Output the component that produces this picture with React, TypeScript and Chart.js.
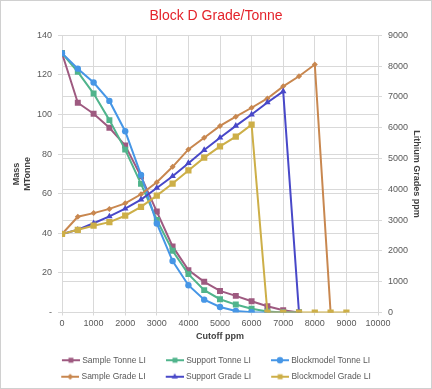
import React, { useEffect, useRef } from 'react';
import { Chart, registerables } from 'chart.js';

Chart.register(...registerables);

// ---- data ----
const cutoffPpm = [0, 500, 1000, 1500, 2000, 2500, 3000, 3500, 4000, 4500, 5000, 5500, 6000, 6500, 7000, 7500, 8000, 8500, 9000];

const sampleTonne = [131, 106, 100.4, 93.3, 84.4, 68.8, 51, 33.4, 21.4, 15.5, 10.9, 8.4, 5.7, 3.2, 1.1, 0];
const supportTonne = [131, 121.6, 110.6, 97.2, 82.3, 65, 46.8, 31.2, 19.4, 11.3, 6.7, 4, 1.9, 0.5, 0, 0];
const blockmodelTonne = [131, 123.2, 116.2, 106.9, 91.6, 69.5, 45, 26, 13.8, 6.5, 2.8, 0.8, 0.1, 0, 0, 0];

const sampleGrade = [2550, 3110, 3228, 3365, 3545, 3840, 4231, 4731, 5298, 5678, 6060, 6360, 6650, 6953, 7345, 7672, 8053, 0];
const supportGrade = [2550, 2690, 2900, 3120, 3371, 3665, 4045, 4427, 4850, 5276, 5678, 6060, 6430, 6822, 7181, 0];
const blockmodelGrade = [2550, 2685, 2820, 2934, 3143, 3430, 3796, 4188, 4613, 5030, 5397, 5711, 6100, 0, 0, 0, 0, 0, 0];

const seriesNames = [
  'Sample Tonne LI',
  'Support Tonne LI',
  'Blockmodel Tonne LI',
  'Sample Grade LI',
  'Support Grade LI',
  'Blockmodel Grade LI',
];
const seriesValues = [sampleTonne, supportTonne, blockmodelTonne, sampleGrade, supportGrade, blockmodelGrade];
const seriesAxis = ['y', 'y', 'y', 'y2', 'y2', 'y2'];
const seriesColors = ['#9E5A80', '#50B48C', '#4696E6', '#C8874F', '#4848C8', '#CDAF48'];
const seriesMarkers = ['rect', 'rect', 'circle', 'rectRot', 'triangle', 'rect'];
const seriesMarkerRadius = [4.2, 4.2, 3.2, 3, 3.8, 4.4];

const titleText = 'Block D Grade/Tonne';
const xTitle = 'Cutoff ppm';
const yTitle = ['Mass', 'MTonne'];
const y2Title = 'Lithium Grades ppm';

const FONT = "'Liberation Sans', Arial, sans-serif";

function drawMarker(ctx: CanvasRenderingContext2D, style: string, x: number, y: number, r: number) {
  ctx.beginPath();
  if (style === 'rect') {
    const s = r * Math.SQRT1_2;
    ctx.rect(x - s, y - s, 2 * s, 2 * s);
  } else if (style === 'circle') {
    ctx.arc(x, y, r, 0, Math.PI * 2);
  } else if (style === 'triangle') {
    ctx.moveTo(x, y - r);
    ctx.lineTo(x + r * 0.87, y + r * 0.5);
    ctx.lineTo(x - r * 0.87, y + r * 0.5);
    ctx.closePath();
  } else if (style === 'rectRot') {
    ctx.moveTo(x, y - r);
    ctx.lineTo(x + r, y);
    ctx.lineTo(x, y + r);
    ctx.lineTo(x - r, y);
    ctx.closePath();
  }
  ctx.fill();
}

function makeLegendIcon(color: string, style: string, r: number) {
  const c = document.createElement('canvas');
  c.width = 32;
  c.height = 12;
  const ctx = c.getContext('2d')!;
  ctx.strokeStyle = color;
  ctx.fillStyle = color;
  ctx.lineWidth = 2;
  ctx.beginPath();
  ctx.moveTo(14, 6);
  ctx.lineTo(32, 6);
  ctx.stroke();
  drawMarker(ctx, style, 23, 6, r);
  return c;
}

const legendShift = {
  id: 'legendShift',
  afterLayout(chart: any) {
    if (chart.legend) {
      chart.legend.left -= 6;
      chart.legend.right -= 6;
    }
  },
};

export default function App() {
  const ref = useRef<HTMLCanvasElement | null>(null);

  useEffect(() => {
    if (!ref.current) return;
    const icons = seriesColors.map((c, i) => makeLegendIcon(c, seriesMarkers[i], Math.min(seriesMarkerRadius[i], 3.5)));

    const datasets = seriesNames.map((name, i) => ({
      label: name,
      data: seriesValues[i].map((v, j) => ({ x: cutoffPpm[j], y: v })),
      yAxisID: seriesAxis[i],
      borderColor: seriesColors[i],
      backgroundColor: seriesColors[i],
      pointBackgroundColor: seriesColors[i],
      pointBorderColor: seriesColors[i],
      pointStyle: seriesMarkers[i],
      pointRadius: seriesMarkerRadius[i],
      pointBorderWidth: 0,
      borderWidth: 2,
      tension: 0,
      fill: false,
      order: 5 - i,
    }));

    const grid = { color: '#D9D9D9', lineWidth: 1 };
    const tickFont = { family: FONT, size: 9 };
    const titleFont = { family: FONT, size: 9, weight: 'bold' as const };

    const chart = new Chart(ref.current, {
      type: 'line',
      data: { datasets },
      plugins: [legendShift],
      options: {
        responsive: false,
        animation: false,
        layout: { padding: { left: 0, right: 0, top: 0, bottom: -2 } },
        plugins: {
          title: {
            display: true,
            text: titleText,
            color: '#E4232B',
            font: { family: FONT, size: 14, weight: 'normal' },
            padding: { top: 8, bottom: 10.6 },
          },
          legend: {
            position: 'bottom',
            labels: {
              usePointStyle: true,
              pointStyleWidth: 28,
              padding: 8,
              color: '#595959',
              font: { family: FONT, size: 8.5 },
              sort: (a: any, b: any) => a.datasetIndex - b.datasetIndex,
              generateLabels: (ch: any) => {
                const items = Chart.defaults.plugins.legend.labels.generateLabels(ch);
                return items.map((it: any) => ({ ...it, pointStyle: icons[it.datasetIndex] }));
              },
            },
          },
          tooltip: { enabled: false },
        },
        scales: {
          x: {
            type: 'linear',
            min: 0,
            max: 10000,
            grid: { ...grid, tickLength: 3 },
            border: { color: '#D9D9D9' },
            ticks: {
              stepSize: 1000,
              autoSkip: false,
              maxRotation: 0,
              color: '#595959',
              font: tickFont,
              padding: 3,
              callback: (v: any) => String(v),
            },
            title: { display: true, text: xTitle, color: '#404040', font: titleFont, padding: { top: 2, bottom: 5.6 } },
            afterFit: (s: any) => { s.height = 35.5; },
          },
          y: {
            type: 'linear',
            position: 'left',
            min: 0,
            max: 140,
            grid: { ...grid, tickLength: 4 },
            border: { color: '#D9D9D9' },
            ticks: {
              stepSize: 20,
              color: '#595959',
              font: tickFont,
              padding: 6,
              callback: (v: any) => (v === 0 ? '-' : String(v)),
            },
            title: { display: true, text: yTitle, color: '#404040', font: titleFont, padding: { top: 11.6, bottom: 0 } },
            afterFit: (s: any) => { s.width = 62; },
          },
          y2: {
            type: 'linear',
            position: 'right',
            min: 0,
            max: 9000,
            grid: { ...grid, tickLength: 4, drawOnChartArea: true },
            border: { color: '#D9D9D9' },
            ticks: {
              stepSize: 1000,
              color: '#595959',
              font: tickFont,
              padding: 6,
              callback: (v: any) => String(v),
            },
            title: { display: true, text: y2Title, color: '#404040', font: titleFont, padding: { top: 10.6, bottom: 0 } },
            afterFit: (s: any) => { s.width = 54; },
          },
        },
      },
    } as any);

    return () => chart.destroy();
  }, []);

  return (
    <div style={{ position: 'fixed', left: 0, top: 0, width: 432, height: 389, background: '#fff' }}>
      <canvas ref={ref} width={432} height={389} style={{ display: 'block', width: 432, height: 389 }} />
      <div
        style={{
          position: 'absolute',
          left: 0,
          top: 0,
          width: 432,
          height: 389,
          border: '1px solid #D0D0D0',
          boxSizing: 'border-box',
          pointerEvents: 'none',
        }}
      />
    </div>
  );
}
